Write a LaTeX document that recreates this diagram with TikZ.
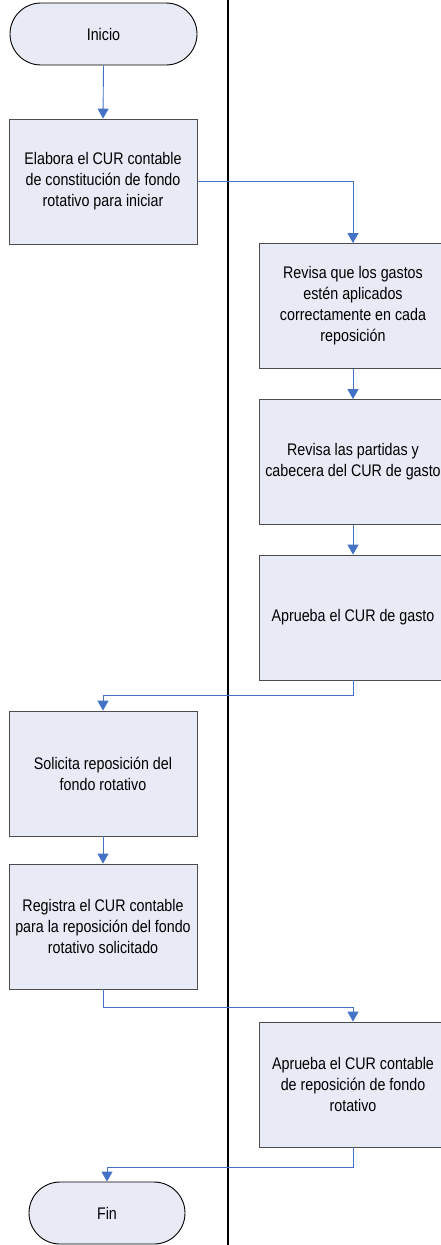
\documentclass[tikz,border=0pt]{standalone}
\usepackage{fontspec}
\setmainfont{Liberation Sans}[FakeStretch=0.85]
\usepackage{tikz}
\usetikzlibrary{arrows.meta, positioning}

\definecolor{boxfill}{RGB}{232,235,245}
\definecolor{flowblue}{RGB}{68,114,196}

\begin{document}
\begin{tikzpicture}[
    x=1pt, y=-1pt,
    font=\fontsize{16.8}{21}\selectfont,
    terminal/.style={
        draw=black,
        fill=boxfill,
        rectangle,
        rounded corners=31pt,
        minimum width=187pt,
        minimum height=62pt,
        inner sep=0pt,
        line width=0.9pt
    },
    process/.style={
        draw=black!70,
        fill=boxfill,
        rectangle,
        minimum width=188pt,
        minimum height=125pt,
        align=center,
        inner sep=2pt,
        line width=0.8pt
    },
    arrow/.style={
        -{Triangle[length=10pt,width=11pt]},
        line width=0.9pt,
        draw=flowblue
    },
    lane/.style={
        line width=1.2pt,
        draw=black
    }
]

\useasboundingbox (0,0) rectangle (441,1245);
\clip (0,0) rectangle (441,1245);

% ============================================================
% Swimlane divider
% ============================================================

\coordinate (laneTop) at (228,0);
\coordinate (laneBot) at (228,1245);
\draw[lane] (laneTop) -- (laneBot);

% ============================================================
% Left lane
% ============================================================

\node[terminal] (inicio) at (103.5,34) {Inicio};

\node[process] (elabora) at (103,181.5)
    {Elabora el CUR contable\\de constitución de fondo\\rotativo para iniciar};

\node[process] (solicita) at (103,773.5)
    {Solicita reposición del\\fondo rotativo};

\node[process] (registra) at (103,926.5)
    {Registra el CUR contable\\para la reposición del fondo\\rotativo solicitado};

\node[terminal, minimum width=156pt] (fin) at (107,1213) {Fin};

% ============================================================
% Right lane
% ============================================================

\node[process] (revisaGastos) at (353,306)
    {Revisa que los gastos\\estén aplicados\\correctamente en cada\\reposición};

\node[process] (revisaPartidas) at (353,462)
    {Revisa las partidas y\\cabecera del CUR de gasto};

\node[process] (apruebaGasto) at (353,617.5)
    {Aprueba el CUR de gasto};

\node[process] (apruebaContable) at (353,1084.5)
    {Aprueba el CUR contable\\de reposición de fondo\\rotativo};

% ============================================================
% Flow
% ============================================================

\draw[arrow] (inicio.south) -- (elabora.north);
\draw[arrow] (elabora.east) -| (revisaGastos.north);
\draw[arrow] (revisaGastos.south) -- (revisaPartidas.north);
\draw[arrow] (revisaPartidas.south) -- (apruebaGasto.north);
\draw[arrow] (apruebaGasto.south) -- ++(0,15) -| (solicita.north);
\draw[arrow] (solicita.south) -- (registra.north);
\draw[arrow] (registra.south) -- ++(0,18) -| (apruebaContable.north);
\draw[arrow] (apruebaContable.south) -- ++(0,20) -| (fin.north);

\end{tikzpicture}
\end{document}
